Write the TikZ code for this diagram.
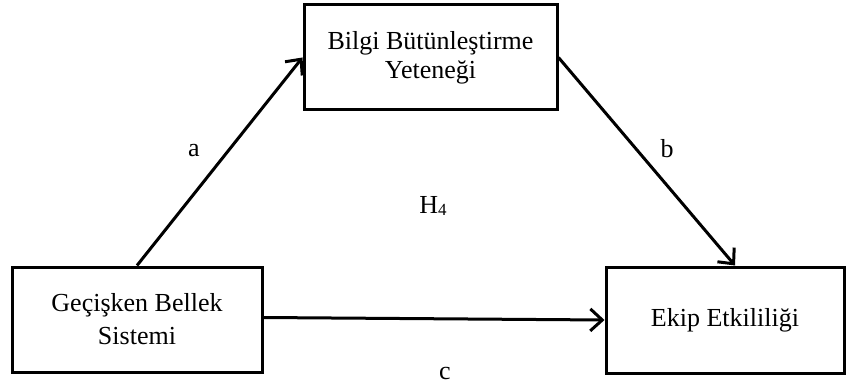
\documentclass[tikz,border=0pt]{standalone}
\usepackage{fontspec}
\setmainfont{Liberation Serif}
\usetikzlibrary{arrows.meta}
\tikzset{
  box/.style={draw=black, line width=3pt, align=center, inner sep=0pt,
    font=\fontsize{26}{30}\selectfont},
  link/.style={line width=3pt, -{Straight Barb[length=12pt,width=22pt,line width=3pt]}},
  lbl/.style={inner sep=0pt, font=\fontsize{26}{30}\selectfont}
}
\begin{document}
\begin{tikzpicture}[x=1pt, y=-1pt]
  \useasboundingbox (0,0) rectangle (846,385);
  % the three variables
  \node[box, minimum width=253pt, minimum height=105pt] (T) at (430.5,57.5)
    {Bilgi Bütünleştirme\\[-1pt]Yeteneği};
  \node[box, minimum width=250pt, minimum height=105pt] (L) at (137,319.5)
    {Geçişken Bellek\\[3pt]Sistemi};
  \node[box, minimum width=238pt, minimum height=106pt] (R) at (725,320)
    {Ekip Etkililiği};
  % paths
  \coordinate (Rin) at ([xshift=10pt]R.north);
  \coordinate (Lout) at ([yshift=2pt]L.east);
  \draw[link] (L.north) -- (T.west);
  \draw[link] (T.east) -- (Rin);
  \draw[link] (Lout) -- (R.west);
  % path labels
  \node[lbl] (la) at (194,151) {a};
  \node[lbl] (lb) at (667,149) {b};
  \node[lbl] (lh) at (433,206) {H\raisebox{-2pt}{\fontsize{17}{17}\selectfont 4}};
  \node[lbl] (lc) at (445,373) {c};
\end{tikzpicture}
\end{document}
